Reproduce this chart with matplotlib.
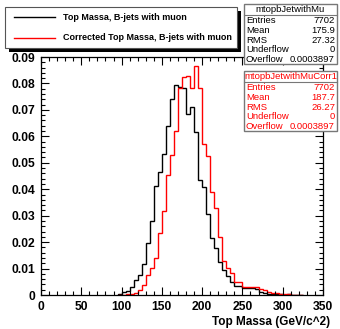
import numpy as np
import matplotlib.pyplot as plt
from matplotlib.patches import Rectangle
from matplotlib.lines import Line2D
from matplotlib.ticker import MultipleLocator

plt.rcParams['font.family'] = ['Liberation Sans', 'DejaVu Sans']

# histogram contents, 5 GeV bins starting at 95 GeV
bin_start = 95
bin_width = 5
top_mass = [0.0003, 0.0010, 0.0016, 0.0029, 0.0057, 0.0076, 0.0118, 0.0196, 0.0278, 0.0411,
            0.0465, 0.0532, 0.0638, 0.0743, 0.0796, 0.0788, 0.0783, 0.0683, 0.0710, 0.0617,
            0.0433, 0.0410, 0.0306, 0.0214, 0.0176, 0.0125, 0.0095, 0.0070, 0.0051, 0.0034,
            0.0034, 0.0025, 0.0025, 0.0025, 0.0022, 0.0013, 0.0008, 0.0005, 0.0005, 0.0003,
            0.0003, 0.0001, 0.0002, 0.0001, 0.0001, 0.0001]
corr_mass = [0.0, 0.0001, 0.0002, 0.0003, 0.0006, 0.0019, 0.0038, 0.0076, 0.0101, 0.0139,
             0.0234, 0.0316, 0.0453, 0.0530, 0.0619, 0.0781, 0.0823, 0.0828, 0.0781, 0.0866,
             0.0781, 0.0572, 0.0524, 0.0389, 0.0330, 0.0219, 0.0127, 0.0101, 0.0085, 0.0051,
             0.0051, 0.0029, 0.0029, 0.0029, 0.0029, 0.0023, 0.0018, 0.0010, 0.0006, 0.0006,
             0.0004, 0.0003, 0.0002, 0.0001, 0.0001, 0.0001]

legend_labels = ["Top Massa, B-jets with muon", "Corrected Top Massa, B-jets with muon"]
stat_names = ["Entries", "Mean", "RMS", "Underflow", "Overflow"]
stats_top = ["7702", "175.9", "27.32", "0", "0.0003897"]
stats_corr = ["7702", "187.7", "26.27", "0", "0.0003897"]
y_ticks = [0, 0.01, 0.02, 0.03, 0.04, 0.05, 0.06, 0.07, 0.08, 0.09]
y_ticklabels = ["0", "0.01", "0.02", "0.03", "0.04", "0.05", "0.06", "0.07", "0.08", "0.09"]

W, H = 340, 329


def fx(px):
    return px / W


def fy(py):
    return 1 - py / H


fig = plt.figure(figsize=(3.4, 3.29), dpi=100)
ax = fig.add_axes([fx(41), fy(295), fx(323) - fx(41), fy(57) - fy(295)])

n = len(top_mass)
edges = bin_start + bin_width * np.arange(n + 1)
ax.stairs(top_mass, edges, color='black', lw=1)
ax.stairs(corr_mass, edges, color='red', lw=1)

ax.set_xlim(0, 350)
ax.set_ylim(0, 0.09)
ax.set_xticks(np.arange(0, 351, 50))
ax.xaxis.set_minor_locator(MultipleLocator(10))
ax.set_yticks(y_ticks)
ax.set_yticklabels(y_ticklabels)
ax.yaxis.set_minor_locator(MultipleLocator(0.002))
ax.tick_params(which='both', direction='in', top=True, right=True, width=0.8)
ax.tick_params(which='major', length=6)
ax.tick_params(which='minor', length=3)
ax.tick_params(axis='x', pad=4)
ax.tick_params(axis='y', pad=4)
for lab in ax.get_xticklabels() + ax.get_yticklabels():
    lab.set_fontweight('bold')
    lab.set_fontsize(8.7)
for sp in ax.spines.values():
    sp.set_linewidth(0.9)

fig.text(fx(330), fy(322), "Top Massa (GeV/c^2)", ha='right', va='center',
         fontsize=8.5, fontweight='bold')

# legend box with shadow
fig.add_artist(Rectangle((fx(9), fy(52)), fx(241) - fx(9), fy(11) - fy(52),
                         transform=fig.transFigure, facecolor='black', edgecolor='none'))
fig.add_artist(Rectangle((fx(5), fy(48)), fx(237) - fx(5), fy(7) - fy(48),
                         transform=fig.transFigure, facecolor='white', edgecolor='#555555', lw=0.8))
for i, (lab, col) in enumerate(zip(legend_labels, ['black', 'red'])):
    yy = [17, 38][i]
    fig.add_artist(Line2D([fx(14), fx(55)], [fy(yy), fy(yy)], transform=fig.transFigure,
                          color=col, lw=1))
    fig.text(fx(63), fy(yy), lab, ha='left', va='center', fontsize=6.5, fontweight='bold')


def stats_box(top, title, values, color):
    x0, x1 = 244, 337
    fig.add_artist(Rectangle((fx(x0), fy(top + 60)), fx(x1) - fx(x0), fy(top) - fy(top + 60),
                             transform=fig.transFigure, facecolor='white',
                             edgecolor='#777777', lw=1))
    fig.text(fx((x0 + x1) / 2), fy(top + 5.5), title, ha='center', va='center',
             fontsize=6.8, color=color)
    fig.add_artist(Line2D([fx(x0), fx(x1)], [fy(top + 11), fy(top + 11)],
                          transform=fig.transFigure, color='#777777', lw=0.8))
    for j, (name, val) in enumerate(zip(stat_names, values)):
        yy = top + 16.5 + 9.8 * j
        fig.text(fx(x0 + 2), fy(yy), name, ha='left', va='center', fontsize=6.8, color=color)
        fig.text(fx(x1 - 2), fy(yy), val, ha='right', va='center', fontsize=6.8, color=color)


stats_box(4, "mtopbJetwithMu", stats_top, 'black')
stats_box(71, "mtopbJetwithMuCorr1", stats_corr, 'red')

fig.savefig("out.png", dpi=100)
